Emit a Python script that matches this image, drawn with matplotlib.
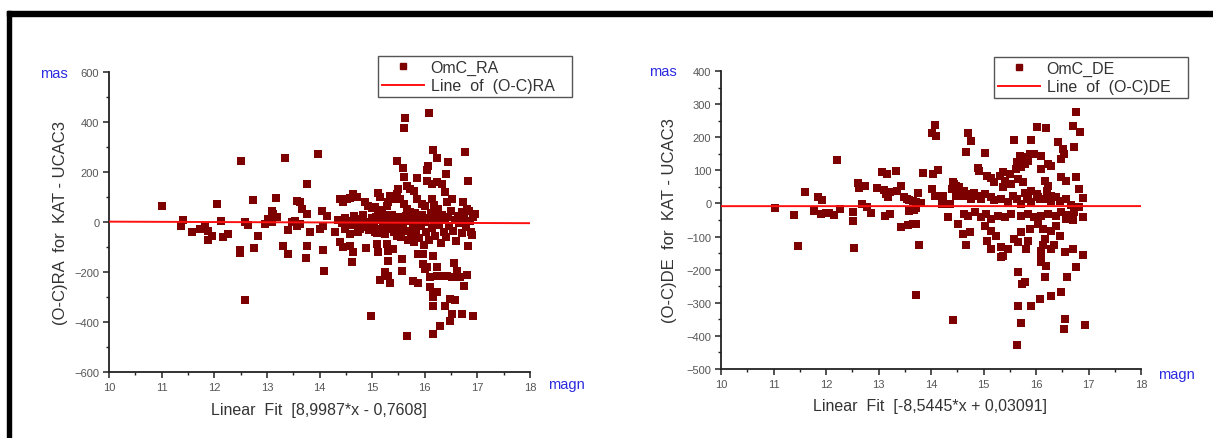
import matplotlib
matplotlib.use("Agg")
import matplotlib.pyplot as plt
from matplotlib.lines import Line2D
from matplotlib.patches import Rectangle
from matplotlib.ticker import MultipleLocator

plt.rcParams['font.family'] = ['Liberation Sans', 'DejaVu Sans']

# ---------------- data ----------------
ra_mag = [11.01, 11.41, 11.36, 11.57, 11.73, 11.82, 11.89, 11.95, 11.88, 12.05,
          12.12, 12.17, 12.26, 12.48, 12.49, 12.51, 12.59, 12.65, 12.59, 12.73,
          12.76, 12.84, 12.97, 13.03, 13.06, 13.09, 13.12, 13.19, 13.09, 13.17,
          13.31, 13.35, 13.40, 13.41, 13.47, 13.54, 13.57, 13.57, 13.63, 13.66,
          13.63, 13.76, 13.77, 13.76, 13.74, 13.82, 13.98, 14.01, 14.04, 14.06,
          14.07, 14.09, 14.14,
          14.30, 14.39, 14.39, 14.45, 14.45, 14.49, 14.52, 14.58, 14.58, 14.58,
          14.61, 14.64, 14.64, 14.71, 14.74, 14.77, 14.86, 14.88, 14.92, 14.96,
          14.98, 14.99, 15.06, 15.06, 15.09, 15.12, 15.12, 15.12, 15.15, 15.15,
          15.15, 15.18, 15.25, 15.25, 15.28, 15.28, 15.31, 15.31, 15.31, 15.31,
          15.34, 15.34, 15.34, 15.40, 15.40, 15.47, 15.48, 15.50, 15.53, 15.56,
          15.56, 15.58, 15.59, 15.60, 15.60, 15.61, 15.63, 15.66, 15.66, 15.67,
          15.72, 15.72, 15.78, 15.79, 15.85, 15.85, 15.88, 15.88, 15.94, 15.97,
          15.97, 16.01, 16.01, 16.04, 16.04, 16.04, 16.07, 16.09, 16.10, 16.10,
          16.13, 16.13, 16.15, 16.15, 16.16, 16.16, 16.16, 16.16, 16.17, 16.23,
          16.23, 16.23, 16.23, 16.23, 16.26, 16.29, 16.32, 16.32, 16.39, 16.39,
          16.40, 16.42, 16.42, 16.44, 16.48, 16.48, 16.51, 16.51, 16.51, 16.56,
          16.58, 16.61, 16.67, 16.70, 16.70, 16.72, 16.75, 16.77, 16.80, 16.80,
          16.83, 16.89, 16.91, 16.95, 16.84,
          14.35, 14.42, 14.48, 14.55, 14.62, 14.66, 14.70, 14.75, 14.80, 14.83,
          14.90, 14.95, 15.00, 15.03, 15.08, 15.10, 15.14, 15.20, 15.22, 15.27,
          15.30, 15.36, 15.38, 15.42, 15.45, 15.48, 15.50, 15.52, 15.55, 15.57,
          15.62, 15.64, 15.68, 15.70, 15.73, 15.75, 15.77, 15.80, 15.82, 15.84,
          15.87, 15.90, 15.92, 15.95, 15.98, 16.00, 16.03, 16.06, 16.08, 16.11,
          16.14, 16.18, 16.20, 16.24, 16.27, 16.30, 16.33, 16.36, 16.38, 16.41,
          16.45, 16.47, 16.50, 16.53, 16.57, 16.60, 16.63, 16.66, 16.70, 16.74,
          16.78, 16.82, 16.86, 16.88, 16.92]
ra_omc = [63, 8, -15, -38, -26, -15, -35, -55, -73, 74,
          5, -58, -49, -110, -122, 243, -1, -11, -312, 87,
          -105, -55, -8, 12, 10, 45, 32, 19, -1, 96,
          -95, 257, -31, -128, -1, 5, 83, -15, 79, 52,
          -8, 32, 153, -95, -145, -41, 272, -28, 45, -111,
          -15, -195, 25,
          -39, 92, -79, 81, -101, -28, 92, 95, -48, -95,
          -159, 112, -121, 99, -41, -28, 79, -104, 65, -21,
          -376, 55, 59, -41, -88, 39, 116, -121, 99, -28,
          -231, 49, -48, -201, 65, -88, 79, -115, -155, -217,
          105, -28, -244, 92, -108, 112, 245, 132, 92, -148,
          -195, 215, -8, 72, 376, 181, 416, 145, 52, -457,
          132, 39, -235, 125, 176, 92, -128, -244, 72, -128,
          -168, 63, -188, 163, 208, -181, 225, 436, -221, -261,
          152, 92, 289, -337, -135, -281, -301, -448, 68, 159,
          256, -181, -215, -279, 52, -415, 152, -215, 119, -337,
          192, 79, -215, 241, -308, -395, 92, -221, -368, -164,
          -311, -195, -221, 39, -368, 79, -257, 281, 52, -212,
          165, -53, -377, 32, 45,
          10, -5, 18, 5, -12, 25, -8, 12, -18, 30,
          2, -30, 15, -10, 22, -45, 8, -15, 28, -3,
          12, -20, 30, -40, 5, -55, 20, -25, -60, 10,
          -35, 25, -70, 5, -50, 18, -20, -80, 35, -45,
          8, -65, -15, 28, -90, 0, -40, 15, -70, 38,
          -25, 5, -55, 20, -10, -85, 30, -40, 8, -60,
          20, -15, 45, -35, 10, -75, 25, -5, -45, 15,
          -20, -95, 5, -40, 20]

de_mag = [11.03, 11.39, 11.46, 11.60, 11.77, 11.85, 11.92, 11.91, 12.00, 12.06,
          12.15, 12.27, 12.21, 12.51, 12.51, 12.54, 12.61, 12.62, 12.75, 12.68,
          12.79, 12.86, 12.98, 13.10, 13.15, 13.18, 13.21, 13.06, 13.17, 13.33,
          13.13, 13.21, 13.36, 13.43, 13.48, 13.55, 13.59, 13.66, 13.71, 13.80,
          13.76, 13.42, 13.56, 13.66, 13.71, 13.59, 13.67, 13.71, 13.78, 13.71,
          13.85, 14.03, 14.13, 14.07, 14.02, 14.10, 14.02, 14.07, 14.23, 14.20,
          14.37, 14.32, 14.42, 14.41, 14.48, 14.51, 14.56, 14.51,
          14.71, 14.77, 14.66, 15.02, 14.90, 14.92, 15.59, 15.91, 16.02, 16.19,
          16.42, 16.51, 16.53, 16.48, 15.69, 15.76, 15.88, 15.96, 16.10, 15.63,
          15.79, 15.61, 15.72, 15.85, 16.09, 16.23, 16.29, 15.37, 15.32, 15.50,
          15.14, 15.20, 15.07, 15.40, 15.37, 15.53, 15.66, 15.76, 16.48, 16.58,
          16.17, 16.23, 16.20, 16.29, 15.91, 16.01, 16.07, 15.84, 15.79,
          14.44, 14.40, 14.53, 14.63, 14.47, 14.60, 14.70, 14.76, 14.89, 14.96,
          14.82, 15.02, 15.14, 15.20, 15.33, 15.46, 15.56, 15.63, 15.72, 15.82,
          15.91, 16.04, 16.17, 16.29, 16.38, 16.45, 16.58,
          14.60, 14.75, 14.66, 14.63, 14.70, 14.83, 14.96, 15.05, 15.14, 15.27,
          15.40, 15.53, 15.72, 15.84, 15.97, 16.10, 16.23, 16.38, 16.48, 16.58,
          15.02, 15.14, 15.24, 15.07, 15.14, 15.33, 15.46, 15.59, 15.72, 15.66,
          15.84, 15.88, 16.04, 16.13, 16.17, 16.29, 16.38, 16.45, 16.35, 16.29,
          15.33, 15.37, 15.81, 16.10, 16.10, 16.10, 16.19, 16.13,
          15.65, 15.79, 15.74, 16.18, 15.65, 15.91, 16.07, 16.29, 16.48, 15.71,
          15.63, 16.55, 16.53, 16.55, 16.59,
          16.76, 16.70, 16.83, 16.73, 16.77, 16.81, 16.90, 16.94, 16.90, 16.76,
          16.70, 16.90, 16.73, 16.81, 16.58, 16.66, 16.70]
de_omc = [-15, -35, -129, 34, -22, 18, 10, -33, -29, -29,
          -35, -17, 132, -25, -52, -136, 62, 46, 52, -2,
          -12, -29, 46, 42, 29, 19, 34, 96, 89, 99,
          -39, -32, 39, 52, 19, 13, 11, 8, 5, 1,
          32, -72, -65, -62, -62, -22, -19, -15, -125, -277,
          92, 89, 102, 237, 213, 205, 44, 22, 22, -2,
          -2, -42, -351, 64, 54, 42, 34, -62,
          212, 188, 154, 151, 106, 99, 192, 192, 230, 227,
          187, 164, 149, 134, 144, 139, 149, 149, 144, 124,
          119, 104, 109, 129, 104, 119, 114, 94, 84, 89,
          76, 64, 84, 69, 49, 59, 74, 64, 79, 69,
          69, 54, 39, 23, 39, 28, 13, 18, 33,
          59, 44, 49, 39, 23, 23, 28, 13, 23, 13,
          33, 29, 19, 9, 14, 3, 23, 13, -2, 13,
          3, 18, 13, 8, 18, 8, 13,
          -92, -87, -127, -32, -37, -27, -42, -32, -47, -37,
          -42, -32, -37, -32, -42, -37, -32, -37, -27, -47,
          -67, -82, -97, -112, -137, -132, -137, -107, -87, -117,
          -112, -77, -62, -77, -107, -82, -67, -97, -127, -137,
          -163, -158, -137, -143, -163, -178, -188, -127,
          -208, -236, -243, -223, -311, -311, -289, -280, -266, -361,
          -429, -349, -379, -147, -222,
          277, 233, 215, 170, 80, 43, 15, -367, -155, -192,
          -139, -40, -25, -10, -35, -5, -50]

fit_x = [10, 18]
ra_fit = [1.4, -4.7]
de_fit = [-8.2, -8.0]

# ---------------- figure ----------------
W, H = 1213, 439
fig = plt.figure(figsize=(W / 100, H / 100), dpi=100)
fig.patch.set_facecolor('white')

# black frame (top + left bars)
fig.patches.append(Rectangle((7 / W, 1 - 17 / H), 1 - 7 / W, 5 / H,
                             transform=fig.transFigure, color='black', zorder=0))
fig.patches.append(Rectangle((7 / W, 0), 4 / W, 1 - 12 / H,
                             transform=fig.transFigure, color='black', zorder=0))

MARK = '#7d0000'
TICKC = '#555555'
TXTC = '#333333'
BLUE = '#2a2ae0'


def px_rect(x0, x1, ytop, ybot):
    return [x0 / W, 1 - ybot / H, (x1 - x0) / W, (ybot - ytop) / H]


def style_axes(ax, ymin, ymax, ymaj, ymin_step):
    ax.set_xlim(10, 18)
    ax.set_ylim(ymin, ymax)
    ax.xaxis.set_major_locator(MultipleLocator(1))
    ax.xaxis.set_minor_locator(MultipleLocator(0.5))
    ax.yaxis.set_major_locator(MultipleLocator(ymaj))
    ax.yaxis.set_minor_locator(MultipleLocator(ymin_step))
    for s in ('top', 'right'):
        ax.spines[s].set_visible(False)
    for s in ('left', 'bottom'):
        ax.spines[s].set_color('#222222')
        ax.spines[s].set_linewidth(1.3)
    ax.tick_params(which='major', direction='out', length=4, width=1.1,
                   color='#222222', labelsize=8, labelcolor=TICKC, pad=3)
    ax.tick_params(which='minor', direction='out', length=2.5, width=1.0,
                   color='#222222')
    ax.set_facecolor('none')


# ---- left: RA ----
ax1 = fig.add_axes(px_rect(109, 530, 73, 373))
ax1.scatter(ra_mag, ra_omc, marker='s', s=27, color=MARK, linewidths=0, zorder=3)
ax1.plot(fit_x, ra_fit, color='#ff1010', lw=1.4, zorder=4)
style_axes(ax1, -600, 600, 200, 100)

# ---- right: DE ----
ax2 = fig.add_axes(px_rect(721, 1141, 72, 370))
ax2.scatter(de_mag, de_omc, marker='s', s=27, color=MARK, linewidths=0, zorder=3)
ax2.plot(fit_x, de_fit, color='#ff1010', lw=1.4, zorder=4)
style_axes(ax2, -500, 400, 100, 50)

# ---- texts ----
def ftext(x, y, s, **kw):
    fig.text(x / W, 1 - y / H, s, **kw)

ftext(54, 74, 'mas', color=BLUE, fontsize=10.5, ha='center', va='center')
ftext(663, 72, 'mas', color=BLUE, fontsize=10.5, ha='center', va='center')
ftext(566, 385, 'magn', color=BLUE, fontsize=10.5, ha='center', va='center')
ftext(1176, 375, 'magn', color=BLUE, fontsize=10.5, ha='center', va='center')

ftext(61, 223, '(O-C)RA  for  KAT - UCAC3', color=TXTC, fontsize=12,
      rotation=90, ha='center', va='center')
ftext(670, 221, '(O-C)DE  for  KAT - UCAC3', color=TXTC, fontsize=12,
      rotation=90, ha='center', va='center')
ftext(319, 411, 'Linear  Fit  [8,9987*x - 0,7608]', color=TXTC, fontsize=11.5,
      ha='center', va='center')
ftext(930, 407, 'Linear  Fit  [-8,5445*x + 0,03091]', color=TXTC, fontsize=11.5,
      ha='center', va='center')

# ---- legends ----
def make_legend(ax, labels, x0, x1, ytop, ybot):
    h = [Line2D([], [], marker='s', ls='none', color=MARK, markersize=5),
         Line2D([], [], color='#ff1010', lw=1.4)]
    bb = px_rect(x0, x1, ytop, ybot)
    leg = ax.legend(h, labels, loc='upper left', mode='expand',
                    bbox_to_anchor=bb, bbox_transform=fig.transFigure,
                    fontsize=11.5, frameon=True, fancybox=False, framealpha=1,
                    edgecolor='#555555', borderpad=0.25, labelspacing=0.2,
                    handlelength=2.6, handletextpad=0.45, borderaxespad=0)
    leg.get_frame().set_linewidth(1.0)
    for t in leg.get_texts():
        t.set_color(TXTC)
    return leg

make_legend(ax1, ['OmC_RA', 'Line  of  (O-C)RA'], 378, 572, 57, 105)
make_legend(ax2, ['OmC_DE', 'Line  of  (O-C)DE'], 994, 1188, 58, 107)

fig.savefig('out.png', dpi=100)
